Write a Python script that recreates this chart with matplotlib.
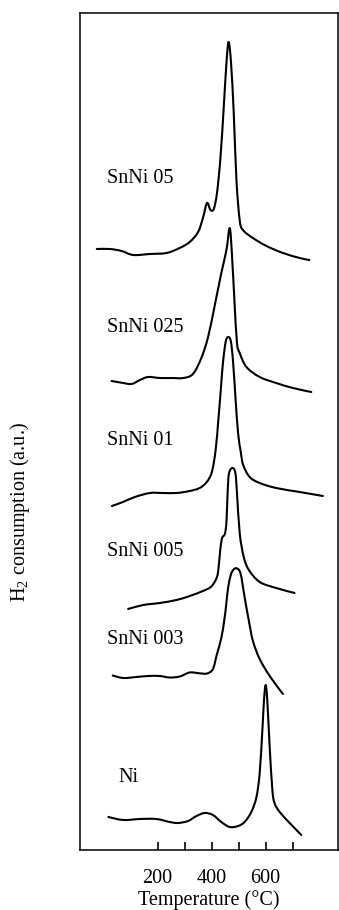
import matplotlib
matplotlib.use("Agg")
import matplotlib.pyplot as plt
from matplotlib.path import Path
from matplotlib.patches import PathPatch

plt.rcParams["font.family"] = ["Liberation Serif", "DejaVu Serif"]
plt.rcParams["mathtext.fontset"] = "custom"
plt.rcParams["mathtext.rm"] = "Liberation Serif"

# TPR profiles: temperature (°C) and H2 consumption signal (a.u.), each above its own baseline
t_snni05 = [-25, 24, 67, 110, 172, 233, 282, 319, 350, 368, 383, 396, 408, 420, 433, 445,
            455, 463, 472, 482, 492, 504, 516, 553, 603, 664, 726, 762]
s_snni05 = [1, 1, -1, -5, -4, -3, 2, 8, 18, 32, 47, 40, 41, 57, 93, 143,
            187, 208, 187, 137, 70, 30, 20, 12, 4, -3, -8, -10]

t_snni025 = [30, 73, 104, 135, 165, 208, 252, 295, 331, 362, 387, 412, 436, 455, 467, 475,
             485, 494, 504, 529, 578, 639, 701, 769]
s_snni025 = [-1, -3, -4, 0, 3, 2, 2, 2, 6, 22, 43, 75, 107, 130, 152, 127,
             77, 37, 27, 13, 3, -3, -8, -12]

t_snni01 = [31, 72, 116, 172, 220, 271, 319, 356, 382, 401, 415, 425, 434, 442, 452, 461,
            471, 479, 489, 498, 508, 517, 541, 578, 639, 726, 812]
s_snni01 = [-6, -2, 3, 7, 7, 7, 9, 12, 18, 28, 50, 80, 110, 137, 158, 163,
            159, 140, 100, 67, 48, 35, 23, 17, 12, 8, 4]

t_snni005 = [91, 147, 208, 270, 319, 368, 397, 415, 424, 432, 439, 449, 455, 459, 464, 477,
             488, 494, 504, 519, 538, 578, 639, 707]
s_snni005 = [1, 5, 7, 10, 14, 19, 23, 30, 38, 60, 72, 76, 88, 115, 136, 142,
             137, 117, 77, 53, 40, 28, 22, 17]

t_snni003 = [34, 73, 122, 165, 208, 245, 282, 319, 356, 383, 405, 419, 436, 447, 454, 461,
             471, 480, 492, 507, 522, 538, 553, 578, 615, 664]
s_snni003 = [-0.5, -3, -2, -1, -1, -2.5, -1.5, 2.5, 1.7, 1.5, 6, 20, 37, 55, 70, 87,
             100, 105, 106.7, 101.7, 78.3, 54, 34, 16, -1, -19]

t_ni = [18, 73, 135, 196, 245, 276, 313, 344, 375, 405, 436, 467, 498, 522, 547, 566,
        578, 588, 594, 600, 606, 615, 625, 633, 652, 689, 732]
s_ni = [3, 0, 1, 1, -2, -3, -1, 4, 7, 5, -2, -7, -6, -2, 8, 23,
        47, 90, 120, 135, 120, 73, 30, 17, 8, -3, -15]

samples = ["SnNi 05", "SnNi 025", "SnNi 01", "SnNi 005", "SnNi 003", "Ni"]
temps = [t_snni05, t_snni025, t_snni01, t_snni005, t_snni003, t_ni]
signals = [s_snni05, s_snni025, s_snni01, s_snni005, s_snni003, s_ni]

# vertical stacking of the profiles and label placement
offsets = [600, 470, 350, 240, 175, 30]
label_x = [12, 12, 12, 12, 12, 55]
label_y = [672, 523, 410, 298, 210, 73]

x_ticks = [200, 300, 400, 500, 600, 700]
x_ticklabels = ["200", "", "400", "", "600", ""]


def smooth_path(xs, ys):
    """Pen-drawn look: cubic Bezier pieces passing through every recorded point."""
    pts = list(zip(xs, ys))
    n = len(pts)
    verts = [pts[0]]
    codes = [Path.MOVETO]
    for i in range(n - 1):
        p0 = pts[i - 1] if i > 0 else pts[i]
        p1 = pts[i]
        p2 = pts[i + 1]
        p3 = pts[i + 2] if i + 2 < n else pts[i + 1]
        c1 = (p1[0] + (p2[0] - p0[0]) / 6, p1[1] + (p2[1] - p0[1]) / 6)
        c2 = (p2[0] - (p3[0] - p1[0]) / 6, p2[1] - (p3[1] - p1[1]) / 6)
        verts += [c1, c2, p2]
        codes += [Path.CURVE4] * 3
    return Path(verts, codes)


fig = plt.figure(figsize=(3.39, 9.10), dpi=100)
ax = fig.add_axes([80 / 339, 60 / 910, 257.5 / 339, 837 / 910])

for t, s, off in zip(temps, signals, offsets):
    ax.add_patch(PathPatch(smooth_path(t, [v + off for v in s]), fill=False,
                           edgecolor="black", lw=1.5, joinstyle="round", capstyle="round"))

for name, lx, ly in zip(samples, label_x, label_y):
    ax.text(lx, ly, name, fontsize=14.5, ha="left", va="center")

ax.set_xlim(-87, 866)
ax.set_ylim(0, 837)
ax.set_xticks(x_ticks)
ax.set_xticklabels(x_ticklabels)
ax.set_yticks([])
ax.tick_params(axis="x", direction="in", length=6, width=1.2, pad=14, labelsize=14.5)
for sp in ax.spines.values():
    sp.set_linewidth(1.1)

ax.set_xlabel("Temperature (°C)", fontsize=14.5, labelpad=1)
fig.text(20 / 339, 1 - 512 / 910, r"$\mathregular{H_2}$ consumption (a.u.)",
         rotation=90, fontsize=14.5, ha="center", va="center")

fig.savefig("out.png", dpi=100)
